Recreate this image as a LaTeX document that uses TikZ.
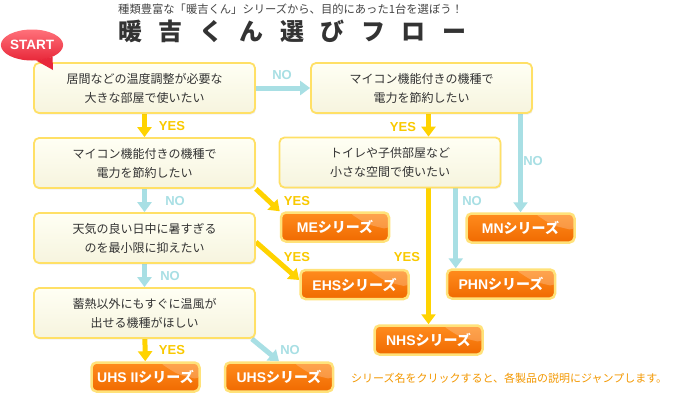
\documentclass[tikz,border=0pt]{standalone}
\usepackage{fontspec}
\setmainfont{Liberation Sans}
\newfontfamily\jp{Noto Sans CJK JP}
\newfontfamily\lat{Liberation Sans}
\usetikzlibrary{arrows.meta, calc, shadows, shapes.geometric, backgrounds}

\definecolor{qborder}{HTML}{FFE066}
\definecolor{qtop}{HTML}{FFFFF4}
\definecolor{qbot}{HTML}{F6F4DE}
\definecolor{yesc}{HTML}{FFD300}
\definecolor{yestxt}{HTML}{F9C900}
\definecolor{noc}{HTML}{A8DFE4}
\definecolor{sertop}{HTML}{FF8C1E}
\definecolor{serbot}{HTML}{F06A00}
\definecolor{serborder}{HTML}{FFE27A}
\definecolor{txt}{HTML}{333333}
\definecolor{subtxt}{HTML}{444444}
\definecolor{foot}{HTML}{F39800}
\definecolor{starttop}{HTML}{FF717A}
\definecolor{startbot}{HTML}{E8283A}

\tikzset{
  qbox/.style={draw=qborder, line width=1.8pt, rounded corners=5pt,
    top color=qtop, bottom color=qbot, minimum width=221pt, minimum height=50pt,
    align=center, text=txt, font=\jp\fontsize{12}{19}\selectfont,
    drop shadow={shadow xshift=1pt, shadow yshift=-1.5pt, opacity=0.12}},
  sbox/.style={draw=serborder, line width=2.5pt, rounded corners=5pt,
    top color=sertop, bottom color=serbot, minimum width=108pt, minimum height=29pt,
    text=white, font=\jp\bfseries\fontsize{14}{14}\selectfont,
    path picture={\fill[white, opacity=0.22]
      ([xshift=-40pt]path picture bounding box.north east)
      .. controls ([xshift=-22pt,yshift=-12pt]path picture bounding box.north east) ..
      ([yshift=-17pt]path picture bounding box.north east)
      -- (path picture bounding box.north east) -- cycle;}},
  yesarr/.style={draw=yesc, line width=5pt, -{Triangle[width=14pt,length=10pt]}},
  noarr/.style={draw=noc, line width=5pt, -{Triangle[width=14pt,length=10pt]}},
  yeslbl/.style={text=yestxt, inner sep=0pt, font=\lat\bfseries\fontsize{13}{13}\selectfont},
  nolbl/.style={text=noc, inner sep=0pt, font=\lat\bfseries\fontsize{13}{13}\selectfont},
}
\newcommand{\sername}[1]{{\lat\bfseries #1}シリーズ}
\newcommand{\tgap}{\hspace{16.5pt}}

\begin{document}
\begin{tikzpicture}[x=1pt, y=-1pt]
\useasboundingbox (0,0) rectangle (675,400);

% --- heading ---
\node[anchor=west, inner sep=0pt, text=subtxt, font=\jp\fontsize{11.3}{11.3}\selectfont] (subtitle) at (118,9)
  {種類豊富な「暖吉くん」シリーズから、目的にあった1台を選ぼう！};
\node[anchor=west, inner sep=0pt, text=txt, font=\jp\bfseries\fontsize{24}{24}\selectfont] (title) at (118,31)
  {暖\tgap 吉\tgap く\tgap ん\tgap 選\tgap び\tgap フ\tgap ロ\tgap ー};

% --- questions ---
\node[qbox] (qA) at (144.5,88)  {居間などの温度調整が必要な\\大きな部屋で使いたい};
\node[qbox] (qB) at (421.5,88)  {マイコン機能付きの機種で\\電力を節約したい};
\node[qbox] (qC) at (144.5,163) {マイコン機能付きの機種で\\電力を節約したい};
\node[qbox] (qD) at (390,162.5) {トイレや子供部屋など\\小さな空間で使いたい};
\node[qbox] (qE) at (144.5,238) {天気の良い日中に暑すぎる\\のを最小限に抑えたい};
\node[qbox] (qF) at (144.5,313) {蓄熱以外にもすぐに温風が\\出せる機種がほしい};

% --- series ---
\node[sbox] (ME)    at (335,227)   {\sername{ME}};
\node[sbox] (MN)    at (520.5,228) {\sername{MN}};
\node[sbox] (EHS)   at (354.5,284.5) {\sername{EHS}};
\node[sbox] (PHN)   at (501,284)   {\sername{PHN}};
\node[sbox] (NHS)   at (428.5,340) {\sername{NHS}};
\node[sbox] (UHSII) at (145.5,377) {\sername{UHS II}};
\node[sbox] (UHS)   at (279,377)   {\sername{UHS}};

% --- start bubble ---
\node[ellipse, minimum width=60pt, minimum height=31pt, inner sep=0pt,
  top color=starttop, bottom color=startbot, text=white,
  font=\lat\bfseries\fontsize{13.5}{13.5}\selectfont] (start) at (32,45) {START};
\coordinate (starttip) at (53,70);
\fill[startbot] (start.-75) -- (starttip) -- (start.-30) -- cycle;

% --- connectors ---
\coordinate (phnin) at ($(PHN.north west)+(10,0)$);
\begin{scope}[on background layer]
  \fill[white] (0,0) rectangle (675,400);
  \draw[noarr]  (qA) -- (qB);
  \draw[yesarr] (qA) -- (qC);
  \draw[yesarr] (qB.south -| NHS.north) -- (qD.north -| NHS.north);
  \draw[noarr]  (qB.south -| MN.north) -- (MN.north);
  \draw[noarr]  (qC) -- (qE);
  \draw[yesarr] (qC.south east) -- (ME.north west);
  \draw[noarr]  (qE) -- (qF);
  \draw[yesarr] ([yshift=-4pt]qE.east) -- ([yshift=4.5pt]EHS.west);
  \draw[yesarr] (qD.south -| NHS.north) -- (NHS.north);
  \draw[noarr]  (qD.south -| phnin) -- (phnin);
  \draw[yesarr] (qF) -- (UHSII);
  \draw[noarr]  ([xshift=-4pt]qF.south east) -- (UHS.north);
\end{scope}

% --- branch labels ---
\node[nolbl]  (lAB)  at (282,75)  {NO};
\node[yeslbl] (lAC)  at (172,126) {YES};
\node[yeslbl] (lBD)  at (403,127) {YES};
\node[nolbl]  (lBM)  at (533,161) {NO};
\node[nolbl]  (lCE)  at (175,201) {NO};
\node[yeslbl] (lCM)  at (297,201) {YES};
\node[nolbl]  (lEF)  at (170,276) {NO};
\node[yeslbl] (lEH)  at (297,257) {YES};
\node[yeslbl] (lDN)  at (407,257) {YES};
\node[nolbl]  (lDP)  at (472,201) {NO};
\node[yeslbl] (lFU2) at (172,350) {YES};
\node[nolbl]  (lFU)  at (290,350) {NO};

% --- footnote ---
\node[anchor=west, inner sep=0pt, text=foot, font=\jp\fontsize{11}{11}\selectfont] (note) at (351,378)
  {シリーズ名をクリックすると、各製品の説明にジャンプします。};
\end{tikzpicture}
\end{document}
